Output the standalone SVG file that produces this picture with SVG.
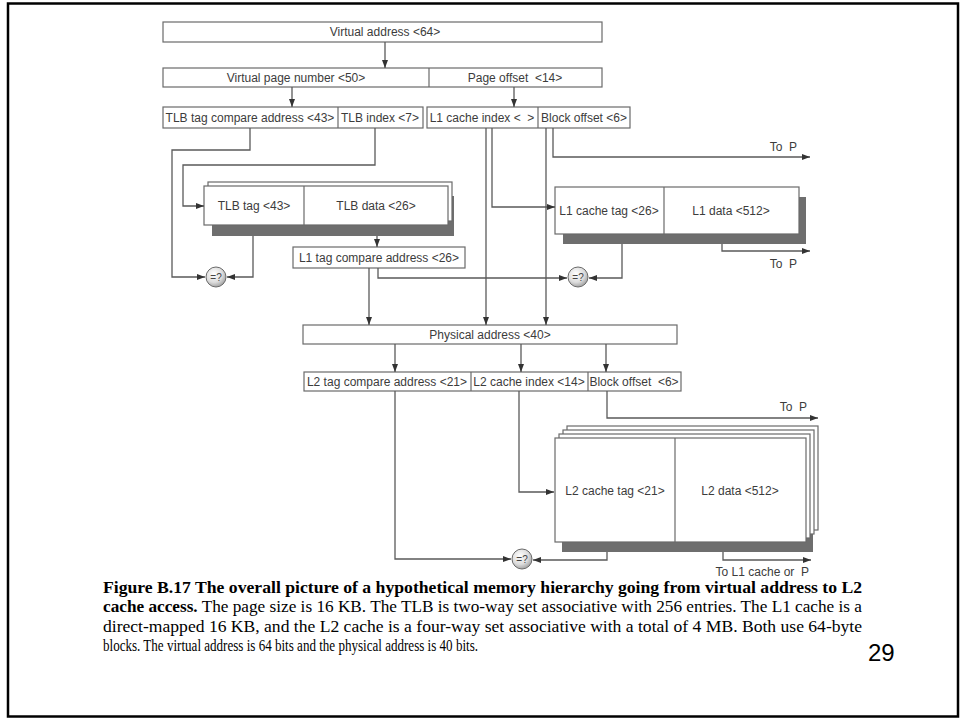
<svg xmlns="http://www.w3.org/2000/svg" width="964" height="721" viewBox="0 0 964 721">
  <style>
    .box { fill: #fff; stroke: #6a6a6a; stroke-width: 1.2; }
    .div { stroke: #6a6a6a; stroke-width: 1.2; }
    .shadow { fill: #6e6e6e; stroke: none; }
    .lbl { font-family: "Liberation Sans", Arial, sans-serif; font-size: 12px; fill: #3c3c3c; text-anchor: middle; white-space: pre; }
    .lblr { font-family: "Liberation Sans", Arial, sans-serif; font-size: 12px; fill: #3c3c3c; text-anchor: end; white-space: pre; }
    .wire { fill: none; stroke: #5a5a5a; stroke-width: 1.3; }
    .arr { marker-end: url(#ah); }
    .cmp { fill: url(#cmpfill); stroke: #6a6a6a; stroke-width: 1; }
    .cmpt { font-family: "Liberation Sans", Arial, sans-serif; font-size: 10px; fill: #444; text-anchor: middle; }
    .cap { font-family: "Liberation Serif", "Times New Roman", serif; font-size: 16px; fill: #000; }
    .b { font-weight: bold; }
  </style>
  <defs>
    <marker id="ah" markerUnits="userSpaceOnUse" markerWidth="8" markerHeight="6" refX="8" refY="3" orient="auto">
      <path d="M0,0 L8,3 L0,6 z" fill="#333"/>
    </marker>
    <radialGradient id="cmpfill" cx="0.4" cy="0.35" r="0.7">
      <stop offset="0" stop-color="#ffffff"/>
      <stop offset="0.6" stop-color="#dcdcdc"/>
      <stop offset="1" stop-color="#9a9a9a"/>
    </radialGradient>
  </defs>

  <!-- page frame -->
  <rect x="8" y="3.5" width="950" height="713" fill="#fff" stroke="#000" stroke-width="2.5"/>

  <!-- address fields -->
  <g id="virtual-address">
    <rect class="box" x="163" y="22" width="439" height="20"/>
    <text class="lbl" x="385" y="36">Virtual address &lt;64&gt;</text>
  </g>
  <g id="vpn-offset">
    <rect class="box" x="163" y="68" width="439" height="19"/>
    <line class="div" x1="429" y1="68" x2="429" y2="87"/>
    <text class="lbl" x="296" y="82">Virtual page number &lt;50&gt;</text>
    <text class="lbl" x="515" y="82">Page offset  &lt;14&gt;</text>
  </g>
  <g id="tlb-fields">
    <rect class="box" x="163" y="107" width="260" height="21"/>
    <line class="div" x1="338" y1="107" x2="338" y2="128"/>
    <text class="lbl" x="250" y="122">TLB tag compare address &lt;43&gt;</text>
    <text class="lbl" x="380" y="122">TLB index &lt;7&gt;</text>
  </g>
  <g id="l1-fields">
    <rect class="box" x="427" y="107" width="203" height="21"/>
    <line class="div" x1="538" y1="107" x2="538" y2="128"/>
    <text class="lbl" x="482" y="122">L1 cache index &lt;  &gt;</text>
    <text class="lbl" x="584" y="122">Block offset &lt;6&gt;</text>
  </g>

  <!-- TLB -->
  <g id="tlb">
    <rect class="shadow" x="212" y="196" width="242" height="40"/>
    <rect class="box" x="208" y="182" width="244" height="39"/>
    <rect class="box" x="204" y="186" width="244" height="39"/>
    <line class="div" x1="304" y1="186" x2="304" y2="225"/>
    <text class="lbl" x="254" y="210">TLB tag &lt;43&gt;</text>
    <text class="lbl" x="376" y="210">TLB data &lt;26&gt;</text>
  </g>

  <g id="l1-tag-compare">
    <rect class="box" x="293" y="247" width="172" height="21"/>
    <text class="lbl" x="379" y="262">L1 tag compare address &lt;26&gt;</text>
  </g>

  <!-- L1 cache -->
  <g id="l1-cache">
    <rect class="shadow" x="563" y="197" width="243" height="47"/>
    <rect class="box" x="555" y="187" width="244" height="47"/>
    <line class="div" x1="664" y1="187" x2="664" y2="234"/>
    <text class="lbl" x="609" y="215">L1 cache tag &lt;26&gt;</text>
    <text class="lbl" x="731" y="215">L1 data &lt;512&gt;</text>
  </g>

  <g id="physical-address">
    <rect class="box" x="303" y="325" width="374" height="19"/>
    <text class="lbl" x="490" y="339">Physical address &lt;40&gt;</text>
  </g>

  <g id="l2-fields">
    <rect class="box" x="304" y="372" width="377" height="19"/>
    <line class="div" x1="471" y1="372" x2="471" y2="391"/>
    <line class="div" x1="588" y1="372" x2="588" y2="391"/>
    <text class="lbl" x="387" y="386">L2 tag compare address &lt;21&gt;</text>
    <text class="lbl" x="529" y="386">L2 cache index &lt;14&gt;</text>
    <text class="lbl" x="634" y="386">Block offset  &lt;6&gt;</text>
  </g>

  <!-- L2 cache, four ways -->
  <g id="l2-cache">
    <rect class="shadow" x="562" y="448" width="251" height="104"/>
    <rect class="box" x="567" y="426" width="251" height="104"/>
    <rect class="box" x="563" y="430" width="251" height="104"/>
    <rect class="box" x="559" y="434" width="251" height="104"/>
    <rect class="box" x="555" y="438" width="251" height="104"/>
    <line class="div" x1="675" y1="438" x2="675" y2="542"/>
    <text class="lbl" x="615" y="495">L2 cache tag &lt;21&gt;</text>
    <text class="lbl" x="740" y="495">L2 data &lt;512&gt;</text>
  </g>

  <!-- connectors -->
  <g id="connectors">
    <path class="wire arr" d="M385,42 V68"/>
    <path class="wire arr" d="M292,87 V107"/>
    <path class="wire arr" d="M514,87 V107"/>
    <path class="wire arr" d="M250,128 V150 H172 V277 H205"/>
    <path class="wire arr" d="M375,128 V165 H183 V206 H204"/>
    <path class="wire arr" d="M486,128 V325"/>
    <path class="wire arr" d="M492,128 V207 H555"/>
    <path class="wire arr" d="M546,128 V325"/>
    <path class="wire arr" d="M553,128 V157 H810"/>
    <path class="wire arr" d="M253,236 V277 H227"/>
    <path class="wire arr" d="M377,236 V247"/>
    <path class="wire arr" d="M369,268 V325"/>
    <path class="wire arr" d="M378,268 V278 H567"/>
    <path class="wire arr" d="M622,244 V278 H589"/>
    <path class="wire arr" d="M722,244 V251 H810"/>
    <path class="wire arr" d="M395,344 V372"/>
    <path class="wire arr" d="M521,344 V372"/>
    <path class="wire arr" d="M606,344 V372"/>
    <path class="wire arr" d="M395,391 V559 H511"/>
    <path class="wire arr" d="M519,391 V492 H554"/>
    <path class="wire arr" d="M607,391 V418 H818"/>
    <path class="wire arr" d="M607,552 V560 H533"/>
    <path class="wire arr" d="M723,552 V560 H811"/>
  </g>

  <!-- comparators -->
  <g id="tlb-compare">
    <circle class="cmp" cx="216" cy="277" r="10"/>
    <text class="cmpt" x="216" y="281">=?</text>
  </g>
  <g id="l1-compare">
    <circle class="cmp" cx="578" cy="277" r="10"/>
    <text class="cmpt" x="578" y="281">=?</text>
  </g>
  <g id="l2-compare">
    <circle class="cmp" cx="522" cy="559" r="10"/>
    <text class="cmpt" x="522" y="563">=?</text>
  </g>

  <!-- output labels -->
  <text class="lblr" x="797" y="151">To  P</text>
  <text class="lblr" x="797" y="268">To  P</text>
  <text class="lblr" x="807" y="411">To  P</text>
  <text class="lblr" x="809" y="576">To L1 cache or  P</text>

  <!-- caption -->
  <text class="cap b" x="103" y="593" textLength="759" lengthAdjust="spacingAndGlyphs">Figure B.17 The overall picture of a hypothetical memory hierarchy going from virtual address to L2</text>
  <text class="cap" x="103" y="612" textLength="759" lengthAdjust="spacingAndGlyphs"><tspan class="b">cache access.</tspan> The page size is 16 KB. The TLB is two-way set associative with 256 entries. The L1 cache is a</text>
  <text class="cap" x="103" y="632" textLength="759" lengthAdjust="spacingAndGlyphs">direct-mapped 16 KB, and the L2 cache is a four-way set associative with a total of 4 MB. Both use 64-byte</text>
  <text class="cap" x="103" y="651" textLength="375" lengthAdjust="spacingAndGlyphs">blocks. The virtual address is 64 bits and the physical address is 40 bits.</text>
  <text x="868" y="661" font-family="Liberation Sans, Arial, sans-serif" font-size="24" fill="#000">29</text>
</svg>
